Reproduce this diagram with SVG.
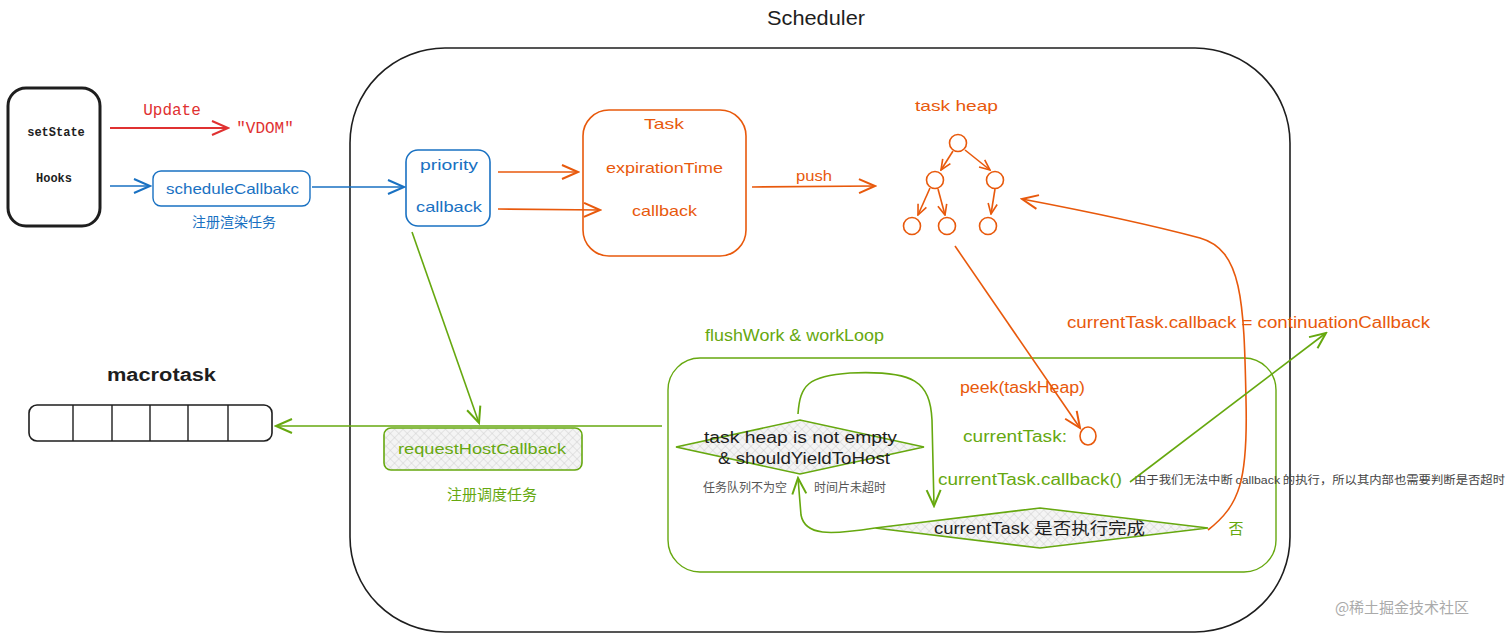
<svg xmlns="http://www.w3.org/2000/svg" width="1512" height="637" viewBox="0 0 1512 637">
<defs>
<pattern id="hatch" width="6" height="6" patternUnits="userSpaceOnUse" patternTransform="rotate(45)">
<rect width="6" height="6" fill="#f4f4f4"/>
<path d="M0,0 L0,6 M0,0 L6,0" stroke="#c9c9c9" stroke-width="0.8"/>
</pattern>
<marker id="aR" viewBox="0 0 20 20" refX="18" refY="10" markerWidth="20" markerHeight="20" markerUnits="userSpaceOnUse" orient="auto"><path d="M2,3 L18,10 L2,17" fill="none" stroke="#e03131" stroke-width="2"/></marker>
<marker id="aB" viewBox="0 0 20 20" refX="18" refY="10" markerWidth="20" markerHeight="20" markerUnits="userSpaceOnUse" orient="auto"><path d="M2,3 L18,10 L2,17" fill="none" stroke="#1971c2" stroke-width="2"/></marker>
<marker id="aO" viewBox="0 0 20 20" refX="18" refY="10" markerWidth="20" markerHeight="20" markerUnits="userSpaceOnUse" orient="auto"><path d="M2,3 L18,10 L2,17" fill="none" stroke="#e8590c" stroke-width="2"/></marker>
<marker id="aOs" viewBox="0 0 20 20" refX="18" refY="10" markerWidth="13" markerHeight="13" markerUnits="userSpaceOnUse" orient="auto"><path d="M2,3 L18,10 L2,17" fill="none" stroke="#e8590c" stroke-width="2.5"/></marker>
<marker id="aG" viewBox="0 0 20 20" refX="18" refY="10" markerWidth="20" markerHeight="20" markerUnits="userSpaceOnUse" orient="auto"><path d="M2,3 L18,10 L2,17" fill="none" stroke="#66a80f" stroke-width="2"/></marker>
</defs>
<style>
.hand{font-family:"Liberation Sans","Noto Sans CJK SC",sans-serif;}
.mono{font-family:"Liberation Mono","DejaVu Sans Mono",monospace;}
.cjk{font-family:"Noto Sans CJK SC","Noto Sans",sans-serif;}
.o{fill:#e8590c;}
.g{fill:#66a80f;}
.b{fill:#1971c2;}
.k{fill:#1e1e1e;}
.gr{fill:#555;}
.lo{stroke:#e8590c;fill:none;stroke-width:1.6;}
.lg{stroke:#66a80f;fill:none;stroke-width:1.6;}
.lb{stroke:#1971c2;fill:none;stroke-width:1.6;}
.lr{stroke:#e03131;fill:none;stroke-width:1.8;}
</style>
<rect width="1512" height="637" fill="#ffffff"/>

<g id="scheduler">
<rect x="350" y="48" width="940" height="584" rx="95" fill="none" stroke="#1e1e1e" stroke-width="1.6"/>
<text x="767" y="25" class="hand k" font-size="21" textLength="98" lengthAdjust="spacingAndGlyphs">Scheduler</text>
</g>

<g id="source">
<rect x="8" y="88" width="92" height="138" rx="18" fill="none" stroke="#1e1e1e" stroke-width="3"/>
<text x="56" y="136" class="mono k" font-size="12" font-weight="bold" text-anchor="middle">setState</text>
<text x="54" y="182" class="mono k" font-size="12" font-weight="bold" text-anchor="middle">Hooks</text>
</g>

<g id="update-label">
<text x="172" y="115" class="mono" fill="#e03131" font-size="16" text-anchor="middle">Update</text>
</g>
<g id="vdom">
<text x="265" y="133" class="mono" fill="#e03131" font-size="16" text-anchor="middle">"VDOM"</text>
</g>

<g id="scheduleCallback">
<rect x="153" y="171" width="157" height="35" rx="8" fill="none" stroke="#1971c2" stroke-width="1.4"/>
<text x="166" y="194" class="hand b" font-size="15" textLength="133" lengthAdjust="spacingAndGlyphs">scheduleCallbakc</text>
<text x="234" y="227" class="cjk b" font-size="14" text-anchor="middle">注册渲染任务</text>
</g>

<g id="params">
<rect x="406" y="150" width="84" height="76" rx="12" fill="none" stroke="#1971c2" stroke-width="1.6"/>
<text x="420" y="170" class="hand b" font-size="15" textLength="58" lengthAdjust="spacingAndGlyphs">priority</text>
<text x="416" y="212" class="hand b" font-size="15" textLength="66" lengthAdjust="spacingAndGlyphs">callback</text>
</g>

<g id="task">
<rect x="583" y="110" width="163" height="146" rx="26" fill="none" stroke="#e8590c" stroke-width="1.6"/>
<text x="644" y="129" class="hand o" font-size="15" textLength="40" lengthAdjust="spacingAndGlyphs">Task</text>
<text x="606" y="173" class="hand o" font-size="15" textLength="117" lengthAdjust="spacingAndGlyphs">expirationTime</text>
<text x="632" y="216" class="hand o" font-size="15" textLength="65" lengthAdjust="spacingAndGlyphs">callback</text>
</g>

<g id="push-label">
<text x="796" y="181" class="hand o" font-size="15" textLength="36" lengthAdjust="spacingAndGlyphs">push</text>
</g>

<g id="taskheap">
<text x="915" y="111" class="hand o" font-size="15" textLength="83" lengthAdjust="spacingAndGlyphs">task heap</text>
<circle cx="958" cy="143" r="8.5" class="lo"/>
<circle cx="935" cy="180" r="8.5" class="lo"/>
<circle cx="995" cy="180" r="8.5" class="lo"/>
<circle cx="912" cy="226" r="8.5" class="lo"/>
<circle cx="947" cy="226" r="8.5" class="lo"/>
<circle cx="988" cy="226" r="8.5" class="lo"/>
<path d="M953,151 L941,170" class="lo" marker-end="url(#aOs)"/>
<path d="M965,150 L990,170" class="lo" marker-end="url(#aOs)"/>
<path d="M930,188 L918,215" class="lo" marker-end="url(#aOs)"/>
<path d="M938,189 L945,215" class="lo" marker-end="url(#aOs)"/>
<path d="M995,189 L991,214" class="lo" marker-end="url(#aOs)"/>
</g>

<g id="macrotask">
<text x="107" y="381" class="hand k" font-size="18" font-weight="bold" textLength="109" lengthAdjust="spacingAndGlyphs">macrotask</text>
<rect x="29" y="405" width="243" height="36" rx="8" fill="none" stroke="#1e1e1e" stroke-width="1.6"/>
<path d="M73,405 V441 M112,405 V441 M150,405 V441 M188,405 V441 M228,405 V441" stroke="#1e1e1e" stroke-width="1.4"/>
</g>

<g id="requestHostCallback">
<rect x="384" y="428" width="198" height="42" rx="7" fill="url(#hatch)" stroke="#66a80f" stroke-width="1.6"/>
<text x="398" y="454" class="hand g" font-size="15" textLength="168" lengthAdjust="spacingAndGlyphs">requestHostCallback</text>
<text x="492" y="500" class="cjk g" font-size="15" text-anchor="middle">注册调度任务</text>
</g>

<g id="workloop">
<text x="705" y="341" class="hand g" font-size="16" textLength="179" lengthAdjust="spacingAndGlyphs">flushWork &amp; workLoop</text>
<rect x="668" y="358" width="608" height="214" rx="32" fill="none" stroke="#66a80f" stroke-width="1.4"/>
</g>

<g id="cond1">
<polygon points="676,447 800,420 924,447 800,474" fill="url(#hatch)" stroke="#66a80f" stroke-width="1.6"/>
<text x="704" y="443" class="hand k" font-size="16" textLength="193" lengthAdjust="spacingAndGlyphs">task heap is not empty</text>
<text x="718" y="464" class="hand k" font-size="16" textLength="172" lengthAdjust="spacingAndGlyphs">&amp; shouldYieldToHost</text>
<text x="745" y="492" class="cjk gr" font-size="12" text-anchor="middle">任务队列不为空</text>
<text x="850" y="492" class="cjk gr" font-size="12" text-anchor="middle">时间片未超时</text>
</g>

<g id="peek">
<text x="960" y="393" class="hand o" font-size="16" textLength="125" lengthAdjust="spacingAndGlyphs">peek(taskHeap)</text>
<text x="963" y="442" class="hand g" font-size="16" textLength="104" lengthAdjust="spacingAndGlyphs">currentTask:</text>
<ellipse cx="1088" cy="436" rx="8" ry="9" class="lo"/>
</g>

<g id="callcb">
<text x="938" y="485" class="hand g" font-size="16" textLength="184" lengthAdjust="spacingAndGlyphs">currentTask.callback()</text>
<text x="1134" y="484" class="cjk" fill="#444" font-size="11.5" textLength="371" lengthAdjust="spacingAndGlyphs">由于我们无法中断  <tspan class="hand">callback</tspan>  的执行，所以其内部也需要判断是否超时</text>
</g>

<g id="cond2">
<polygon points="875,528 1040,508 1208,528 1040,548" fill="url(#hatch)" stroke="#66a80f" stroke-width="1.6"/>
<text x="934" y="534" class="hand k" font-size="16" textLength="211" lengthAdjust="spacingAndGlyphs">currentTask <tspan class="cjk">是否执行完成</tspan></text>
<text x="1236" y="534" class="cjk g" font-size="15" text-anchor="middle">否</text>
</g>

<g id="continuation">
<text x="1067" y="328" class="hand o" font-size="16" textLength="363" lengthAdjust="spacingAndGlyphs">currentTask.callback = continuationCallback</text>
</g>

<g id="watermark">
<text x="1402" y="613" class="cjk" fill="#aaaaaa" font-size="15" text-anchor="middle">@稀土掘金技术社区</text>
</g>

<g id="connectors">
<path d="M110,128 L228,128" class="lr" marker-end="url(#aR)"/>
<path d="M110,186 L150,186" class="lb" marker-end="url(#aB)"/>
<path d="M312,187 L404,187" class="lb" marker-end="url(#aB)"/>
<path d="M498,172 L578,172" class="lo" marker-end="url(#aO)"/>
<path d="M498,209 L600,210" class="lo" marker-end="url(#aO)"/>
<path d="M752,187 L875,186" class="lo" marker-end="url(#aO)"/>
<path d="M955,246 L1080,428" class="lo" marker-end="url(#aO)"/>
<path d="M1208,530 C1240,505 1248,480 1246,400 C1244,300 1242,250 1200,238 C1140,222 1080,210 1022,199" class="lo" marker-end="url(#aO)"/>
<path d="M412,232 L479,423" class="lg" marker-end="url(#aG)"/>
<path d="M662,426 L276,426" class="lg" marker-end="url(#aG)"/>
<path d="M798,414 C800,385 808,376 850,373 C915,370 930,382 932,420 L934,506" class="lg" marker-end="url(#aG)"/>
<path d="M875,528 C830,535 805,536 801,515 L798,478" class="lg" marker-end="url(#aG)"/>
<path d="M1130,482 L1326,333" class="lg" marker-end="url(#aG)"/>
</g>
</svg>
